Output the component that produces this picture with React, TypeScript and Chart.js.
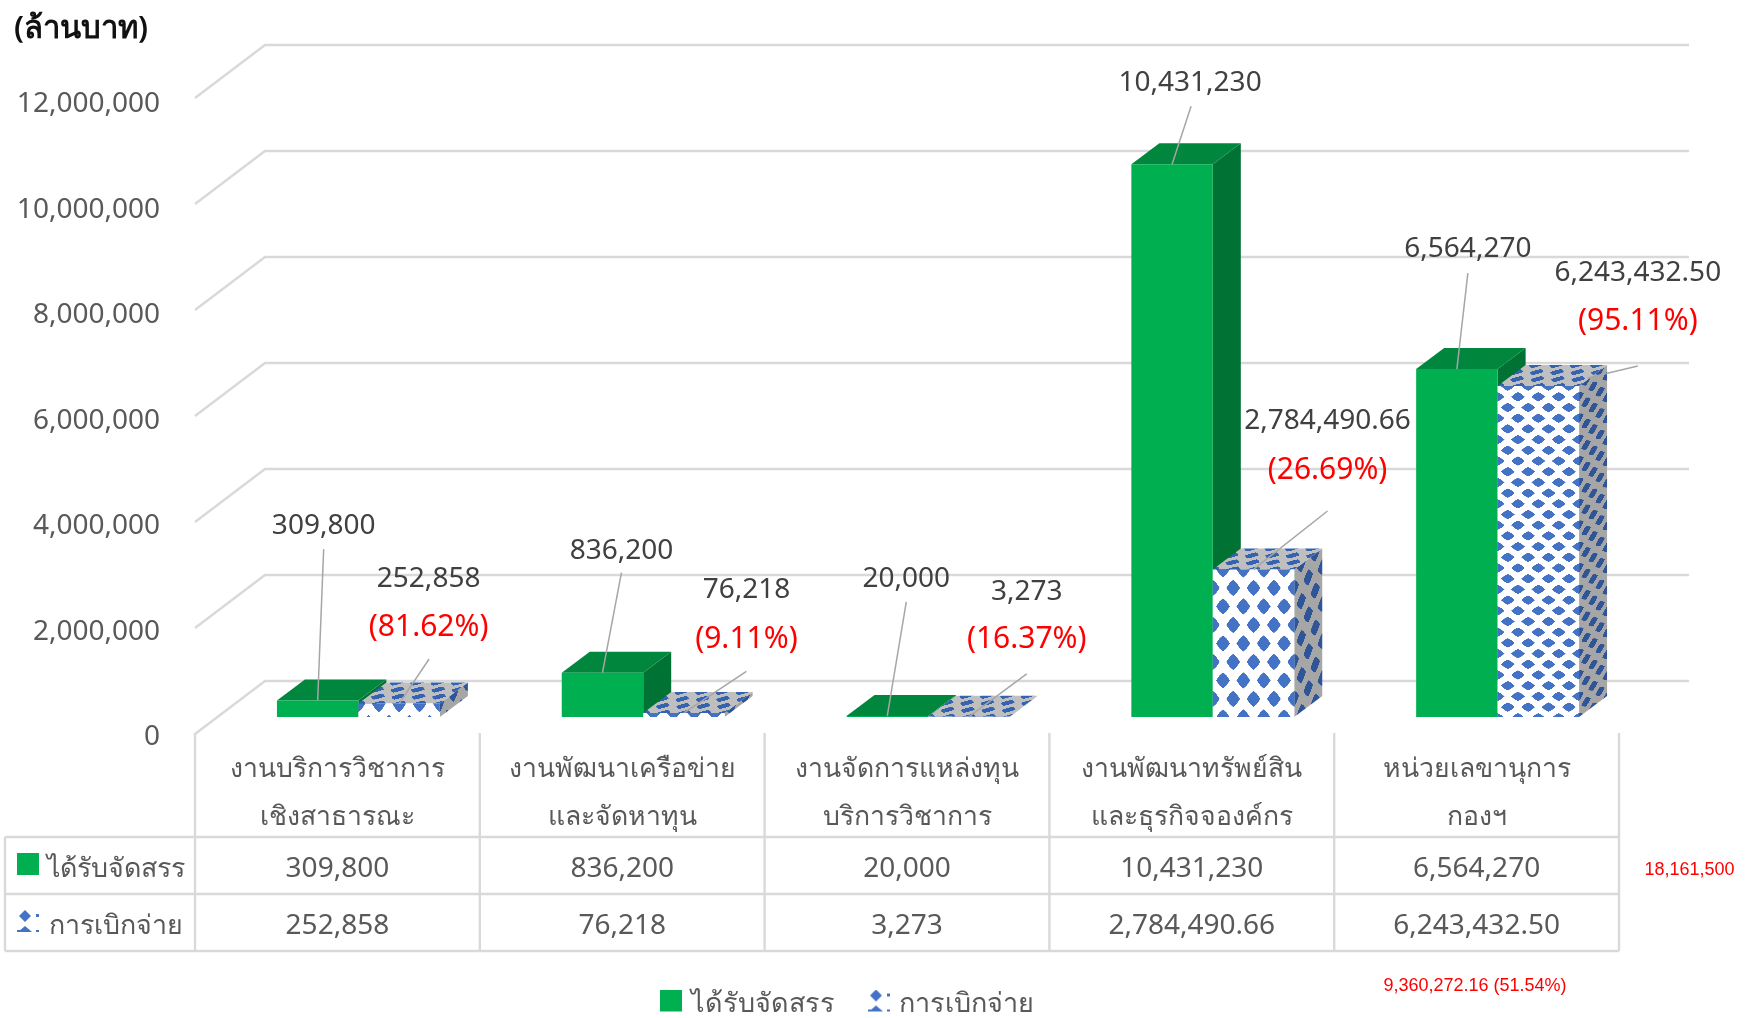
import React, { useEffect, useRef } from "react";
import { Chart, registerables } from "chart.js";

Chart.register(...registerables);

// ---------- data ----------
const categories = [
  ["งานบริการวิชาการ", "เชิงสาธารณะ"],
  ["งานพัฒนาเครือข่าย", "และจัดหาทุน"],
  ["งานจัดการแหล่งทุน", "บริการวิชาการ"],
  ["งานพัฒนาทรัพย์สิน", "และธุรกิจจองค์กร"],
  ["หน่วยเลขานุการ", "กองฯ"],
];
const allocated = [309800, 836200, 20000, 10431230, 6564270];
const disbursed = [252858, 76218, 3273, 2784490.66, 6243432.5];
const allocatedText = ["309,800", "836,200", "20,000", "10,431,230", "6,564,270"];
const disbursedText = ["252,858", "76,218", "3,273", "2,784,490.66", "6,243,432.50"];
const percentText = ["(81.62%)", "(9.11%)", "(16.37%)", "(26.69%)", "(95.11%)"];
const seriesNames = ["ได้รับจัดสรร", "การเบิกจ่าย"];
const unitTitle = "(ล้านบาท)";
const totalAllocated = "18,161,500";
const totalDisbursed = "9,360,272.16 (51.54%)";

// ---------- layout (label offsets from each bar's front-top centre) ----------
const allocLabelOffset = [[6, -175], [19, -122], [19, -137], [18, -81], [11, -120]];
const allocLeaderStart = [[6, -151.6], [19, -100], [19, -114], [19, -58], [11, -96]];
const disbLabelOffset = [[29.5, -125], [62.5, -122.5], [58, -124.5], [74, -148], [99.5, -113]];
const disbPercentDy = [-76.6, -74, -77, -99.4, -64.5];
const disbLeaderStart = [[30, -44.6], [62.5, -41.5], [58, -43], [74, -58.4], [99.5, -20]];
const disbLeaderEnd = [[0, 0], [0, 0], [0, 0], [0, 0], [49, -8]];
const tileHeights = [40, 28, 28, 37, 21.4];
const tilePhase = [0, 0.5, 0.5, 0.5, 0.5];

const FONT = "'Noto Sans', sans-serif";
const GRID = "#d9d9d9";
const TEXT = "#595959";
const LABEL = "#404040";
const SHIFT_X = 21, SHIFT_Y = 17; // front face of bars inside the floor
const BAR_DX = 28, BAR_DY = 21;   // depth of the bars
const WALL_DX = 70, WALL_DY = 53; // depth of the chart box
const WALL_RIGHT = 1689;
const TW = 80, TH = 160;

function makeTile(bg: string, fg: string, staggered = true) {
  const c = document.createElement("canvas");
  c.width = TW; c.height = TH;
  const g = c.getContext("2d")!;
  g.fillStyle = bg;
  g.fillRect(0, 0, TW, TH);
  g.fillStyle = fg;
  const hw = 27, hh = 35;
  const gem = (x: number, y: number) => {
    g.beginPath();
    g.moveTo(x - hw, y);
    g.lineTo(x - hw * 0.5, y - hh * 0.62);
    g.lineTo(x, y - hh);
    g.lineTo(x + hw * 0.5, y - hh * 0.62);
    g.lineTo(x + hw, y);
    g.lineTo(x + hw * 0.5, y + hh * 0.62);
    g.lineTo(x, y + hh);
    g.lineTo(x - hw * 0.5, y + hh * 0.62);
    g.closePath();
    g.fill();
  };
  [[0, 0], [TW, 0], [0, TH], [TW, TH]].forEach(([x, y]) => gem(x, y));
  if (staggered) gem(TW / 2, TH / 2);
  return c;
}

// legend/table key: a 22px square key on a taller transparent canvas, so that
// it sits a little above the middle of its text line
function makeSwatch(paint: (g: CanvasRenderingContext2D) => void) {
  const c = document.createElement("canvas");
  c.width = 22; c.height = 30;
  paint(c.getContext("2d")!);
  return c;
}

function patternSwatch() {
  return makeSwatch((g) => {
    g.fillStyle = "#4472C4";
    const gem = (x: number, y: number, hw: number, hh: number) => {
      g.beginPath();
      g.moveTo(x - hw, y); g.lineTo(x, y - hh); g.lineTo(x + hw, y); g.lineTo(x, y + hh);
      g.closePath(); g.fill();
    };
    gem(8, 6, 6, 6);
    g.fillRect(19, 4, 3, 3);
    g.beginPath();
    g.moveTo(1, 22); g.lineTo(8, 16); g.lineTo(15, 22); g.closePath(); g.fill();
    g.fillRect(0, 20, 3, 2);
    g.fillRect(19, 20, 3, 2);
  });
}

function greenSwatch() {
  return makeSwatch((g) => {
    g.fillStyle = "#00B050";
    g.fillRect(0, 0, 22, 22);
  });
}

export default function App() {
  const ref = useRef<HTMLCanvasElement | null>(null);

  useEffect(() => {
    const canvas = ref.current!;
    const ctx = canvas.getContext("2d")!;
    const frontTile = makeTile("#ffffff", "#4472C4");
    const sideTile = makeTile("#a6a6a6", "#2F5597");
    const topTile = makeTile("#bfbfbf", "#3563B0");
    const frontPatterns = disbursed.map(() => ctx.createPattern(frontTile, "repeat")!);
    const sidePatterns = disbursed.map(() => ctx.createPattern(sideTile, "repeat")!);
    const topPatterns = disbursed.map(() => ctx.createPattern(topTile, "repeat")!);
    const swatches = [greenSwatch(), patternSwatch()];

    const drawFaces = (chart: any, di: number) => {
      const c = chart.ctx;
      chart.getDatasetMeta(di).data.forEach((b: any, i: number) => {
        const xl = b.x - b.width / 2;
        const xr = b.x + b.width / 2;
        const top = b.y;
        const base = b.base;
        let topFill: any = "#00863D";
        let sideFill: any = "#007233";
        if (di === 1) {
          const dTop = 14;
          topPatterns[i].setTransform(new DOMMatrix([
            (b.width / 4) / TW, 0,
            -(BAR_DX / BAR_DY) * dTop / TH, dTop / TH,
            xl, top,
          ]));
          const H = tileHeights[i];
          const sw = BAR_DX / 2;
          sidePatterns[i].setTransform(new DOMMatrix([
            sw / TW, -(sw * BAR_DY / BAR_DX) / TW,
            0, H / TH,
            xr, top - H * tilePhase[i],
          ]));
          topFill = topPatterns[i];
          sideFill = sidePatterns[i];
        }
        c.fillStyle = sideFill;
        c.beginPath();
        c.moveTo(xr, top);
        c.lineTo(xr + BAR_DX, top - BAR_DY);
        c.lineTo(xr + BAR_DX, base - BAR_DY);
        c.lineTo(xr, base);
        c.closePath();
        c.fill();
        c.fillStyle = topFill;
        c.beginPath();
        c.moveTo(xl, top);
        c.lineTo(xl + BAR_DX, top - BAR_DY);
        c.lineTo(xr + BAR_DX, top - BAR_DY);
        c.lineTo(xr, top);
        c.closePath();
        c.fill();
      });
    };

    const scene = {
      id: "scene",
      beforeDraw(chart: any) {
        // optical alignment of the value-axis labels
        const items = chart.scales.y.getLabelItems();
        items.forEach((it: any, i: number) => {
          if (!it.__moved) {
            it.options.translation[1] += 3.2 + (3 * i) / (items.length - 1);
            it.__moved = true;
          }
        });
      },
      afterLayout(chart: any) {
        const lg = chart.legend;
        const pad = lg.options.labels.padding;
        lg.left = 665 - pad;
        lg.right = lg.left + 600;
        lg.top = 991 - pad;
      },
      beforeDatasetsDraw(chart: any) {
        const c = chart.ctx;
        const { x: xs, y: ys } = chart.scales;
        const left = xs.left;
        // walls: slanted side and back gridlines from the scale ticks
        c.save();
        c.strokeStyle = GRID;
        c.lineWidth = 2.4;
        ys.ticks.forEach((t: any) => {
          const py = ys.getPixelForValue(t.value);
          c.beginPath();
          c.moveTo(left, py);
          c.lineTo(left + WALL_DX, py - WALL_DY);
          c.lineTo(WALL_RIGHT, py - WALL_DY);
          c.stroke();
        });
        c.restore();
        // align the patterns of the native front faces
        chart.getDatasetMeta(1).data.forEach((b: any, i: number) => {
          const H = tileHeights[i];
          const w = b.width / 4;
          const x0 = b.x - b.width / 2;
          const top = b.y - H * tilePhase[i];
          frontPatterns[i].setTransform(new DOMMatrix([w / TW, 0, 0, H / TH, x0, top]));
        });
        // first series first, so the second series stands in front of it
        c.save();
        c.translate(SHIFT_X, -SHIFT_Y);
        [0, 1].forEach((di) => {
          drawFaces(chart, di);
          chart.getDatasetMeta(di).data.forEach((b: any) => b.draw(c));
        });
        c.restore();
      },
      beforeDatasetDraw() {
        return false; // both series are painted in beforeDatasetsDraw
      },
      afterDraw(chart: any) {
        const c = chart.ctx;
        const xs = chart.scales.x;
        c.save();
        // ---- data table ----
        const rowTop = 837, rowMid = 894, rowBot = 951, tableLeft = 5, headTop = 733;
        c.strokeStyle = GRID;
        c.lineWidth = 2.4;
        const hline = (y: number) => {
          c.beginPath(); c.moveTo(tableLeft, y); c.lineTo(xs.right, y); c.stroke();
        };
        [rowTop, rowMid, rowBot].forEach(hline);
        c.beginPath(); c.moveTo(tableLeft, rowTop); c.lineTo(tableLeft, rowBot); c.stroke();
        const slot = (xs.right - xs.left) / categories.length;
        for (let i = 0; i <= categories.length; i++) {
          const vx = xs.left + slot * i;
          c.beginPath(); c.moveTo(vx, headTop); c.lineTo(vx, rowBot); c.stroke();
        }
        c.font = `28px ${FONT}`;
        c.fillStyle = TEXT;
        c.textAlign = "center";
        c.textBaseline = "alphabetic";
        categories.forEach((_, i) => {
          const cx = xs.getPixelForTick(i);
          c.fillText(allocatedText[i], cx, 877);
          c.fillText(disbursedText[i], cx, 934);
        });
        c.textAlign = "left";
        c.font = `26.8px ${FONT}`;
        c.fillText(seriesNames[0], 47, 877);
        c.fillText(seriesNames[1], 49, 934);
        c.drawImage(swatches[0], 17, 853);
        c.drawImage(swatches[1], 17, 910);

        // ---- data labels with leader lines ----
        c.textAlign = "center";
        c.textBaseline = "middle";
        c.lineWidth = 1.5;
        c.strokeStyle = "#a6a6a6";
        const leader = (x1: number, y1: number, x2: number, y2: number) => {
          c.beginPath(); c.moveTo(x1, y1); c.lineTo(x2, y2); c.stroke();
        };
        c.font = `28px ${FONT}`;
        chart.getDatasetMeta(0).data.forEach((b: any, i: number) => {
          const ax = b.x + SHIFT_X, ay = b.y - SHIFT_Y;
          leader(ax + allocLeaderStart[i][0], ay + allocLeaderStart[i][1], ax, ay);
          c.fillStyle = LABEL;
          c.fillText(allocatedText[i], ax + allocLabelOffset[i][0], ay + allocLabelOffset[i][1]);
        });
        chart.getDatasetMeta(1).data.forEach((b: any, i: number) => {
          const ax = b.x + SHIFT_X, ay = b.y - SHIFT_Y;
          leader(ax + disbLeaderStart[i][0], ay + disbLeaderStart[i][1],
            ax + disbLeaderEnd[i][0], ay + disbLeaderEnd[i][1]);
          c.font = `28px ${FONT}`;
          c.fillStyle = LABEL;
          c.fillText(disbursedText[i], ax + disbLabelOffset[i][0], ay + disbLabelOffset[i][1]);
          c.font = `30px ${FONT}`;
          c.fillStyle = "#ff0000";
          c.fillText(percentText[i], ax + disbLabelOffset[i][0], ay + disbPercentDy[i]);
        });

        // ---- free texts ----
        c.fillStyle = "#111111";
        c.textAlign = "left";
        c.textBaseline = "alphabetic";
        c.font = `600 31px ${FONT}`;
        c.fillText(unitTitle, 14, 38);
        c.fillStyle = "#ff0000";
        c.textBaseline = "middle";
        c.font = `18px 'Liberation Sans', Arial, sans-serif`;
        c.textAlign = "center";
        c.fillText(totalAllocated, 1689.5, 870);
        c.fillText(totalDisbursed, 1475, 986);
        c.restore();
      },
    };

    const chart = new Chart(canvas, {
      type: "bar",
      data: {
        labels: categories,
        datasets: [
          { label: seriesNames[0], data: allocated, backgroundColor: "#00B050", borderWidth: 0, clip: false, categoryPercentage: 0.572, barPercentage: 1 },
          { label: seriesNames[1], data: disbursed, backgroundColor: frontPatterns, borderWidth: 0, clip: false, categoryPercentage: 0.572, barPercentage: 1 },
        ] as any,
      },
      options: {
        responsive: false,
        animation: false,
        events: [],
        layout: { padding: { left: 0, right: 133, top: 98, bottom: 0 } },
        scales: {
          x: {
            offset: true,
            border: { display: false },
            grid: { display: false },
            ticks: {
              autoSkip: false,
              maxRotation: 0,
              minRotation: 0,
              padding: 3.5,
              color: TEXT,
              font: { family: FONT, size: 26.6, lineHeight: 48 / 26.6 },
            },
            afterFit(s: any) {
              s.height = 1018 - 734 - (s.chart.legend ? s.chart.legend.height : 0);
            },
          },
          y: {
            min: 0,
            max: 12000000,
            border: { display: false },
            grid: { display: false },
            ticks: {
              stepSize: 2000000,
              padding: 27,
              color: TEXT,
              font: { family: FONT, size: 28 },
              callback: (v: any) => Number(v).toLocaleString("en-US"),
            },
            afterFit(s: any) {
              s.width = 195;
            },
          },
        },
        plugins: {
          title: { display: false },
          tooltip: { enabled: false },
          legend: {
            display: true,
            position: "bottom",
            align: "start",
            labels: {
              usePointStyle: true,
              pointStyleWidth: 12,
              boxHeight: 22,
              padding: 38.5,
              color: TEXT,
              font: { family: FONT, size: 27 },
              generateLabels: () =>
                seriesNames.map((name, i) => ({
                  text: name,
                  pointStyle: swatches[i],
                  datasetIndex: i,
                  fontColor: TEXT,
                  lineWidth: 0,
                })),
            },
          },
        },
      } as any,
      plugins: [scene as any],
    });
    return () => chart.destroy();
  }, []);

  return (
    <canvas
      ref={ref}
      width={1752}
      height={1018}
      style={{ position: "absolute", left: 0, top: 0, width: 1752, height: 1018, background: "#ffffff" }}
    />
  );
}
